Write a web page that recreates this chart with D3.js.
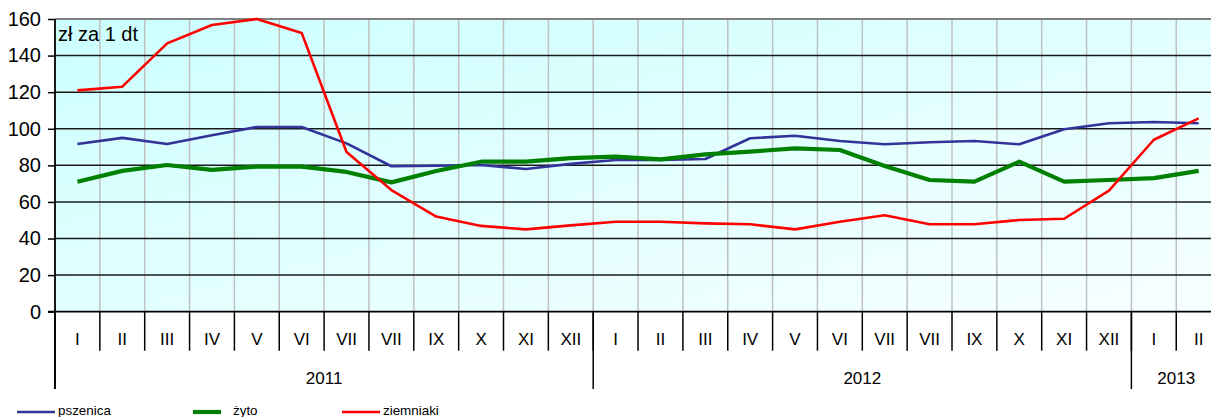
<!DOCTYPE html>
<html lang="pl">
<head>
    <meta charset="UTF-8">
    <script src="https://cdn.jsdelivr.net/npm/d3@7"></script>
    <title>Ceny skupu</title>
    <style>
        body { margin: 0; background: #fff; font-family: Arial, "Liberation Sans", sans-serif; }
        svg { display: block; }
        .tick-label { font-size: 20px; fill: #000; }
        .month-label { font-size: 17px; fill: #000; }
        .year-label { font-size: 17px; fill: #000; }
        .legend-label { font-size: 13.4px; fill: #000; }
    </style>
</head>
<body>
    <div id="chart"></div>
    <script>
        const months = ["I", "II", "III", "IV", "V", "VI", "VII", "VII", "IX", "X", "XI", "XII",
                        "I", "II", "III", "IV", "V", "VI", "VII", "VII", "IX", "X", "XI", "XII",
                        "I", "II"];
        const yearLabels = ["2011", "2012", "2013"];
        const yearMonthCounts = [12, 12, 2];
        const yTicks = [0, 20, 40, 60, 80, 100, 120, 140, 160];

        const pszenica = [91.7, 95, 91.7, 96.5, 101, 101, 92, 79.5, 79.8, 80.2, 78, 80.8,
                          82.9, 82.9, 83.5, 94.8, 96.2, 93.3, 91.5, 92.6, 93.3, 91.5, 99.7, 103,
                          103.7, 103];
        const zyto = [71, 77, 80.2, 77.5, 79.3, 79.3, 76.4, 70.7, 76.9, 82, 82, 83.9,
                      84.8, 83.3, 86, 87.5, 89.3, 88.4, 79.7, 72, 71.1, 82, 71.1, 72,
                      73, 77];
        const ziemniaki = [121, 123, 146.7, 156.7, 160, 152.4, 87.3, 66.5, 52, 46.9, 45, 47.2,
                           49.2, 49.2, 48.3, 47.8, 45, 49.2, 52.7, 47.8, 47.8, 50.1, 50.8, 66.2,
                           94, 105.7];

        const series = [
            { name: "pszenica", values: pszenica, color: "#333399", width: 2.6 },
            { name: "żyto", values: zyto, color: "#008000", width: 4.2 },
            { name: "ziemniaki", values: ziemniaki, color: "#ff0000", width: 2.6 }
        ];

        const width = 1211, height = 417;
        const plot = { left: 55, top: 19, bottom: 311.7, right: 55 + 26 * 44.85 };

        const svg = d3.select("#chart").append("svg")
            .attr("width", width)
            .attr("height", height);

        const x = d3.scaleBand().domain(d3.range(months.length)).range([plot.left, plot.right]).padding(0);
        const y = d3.scaleLinear().domain([0, 160]).range([plot.bottom, plot.top]);
        const xMid = i => x(i) + x.bandwidth() / 2;
        const xEdge = i => i >= months.length ? plot.right : x(i);

        // plot background, light cyan fading to almost white
        const grad = svg.append("defs").append("linearGradient")
            .attr("id", "bg").attr("x1", "0").attr("y1", "0").attr("x2", "1").attr("y2", "1");
        grad.append("stop").attr("offset", "0%").attr("stop-color", "#ccffff");
        grad.append("stop").attr("offset", "100%").attr("stop-color", "#f7ffff");

        svg.append("rect")
            .attr("x", plot.left).attr("y", plot.top)
            .attr("width", plot.right - plot.left).attr("height", plot.bottom - plot.top)
            .attr("fill", "url(#bg)");

        // vertical grid
        svg.append("g").selectAll("line").data(d3.range(1, months.length + 1)).enter().append("line")
            .attr("x1", d => xEdge(d)).attr("x2", d => xEdge(d))
            .attr("y1", plot.top).attr("y2", plot.bottom)
            .attr("stroke", "#c0c0c0").attr("stroke-width", 1.5);

        // horizontal grid
        svg.append("g").selectAll("line").data(yTicks.filter(d => d > 0 && d < 160)).enter().append("line")
            .attr("x1", plot.left).attr("x2", plot.right)
            .attr("y1", d => y(d)).attr("y2", d => y(d))
            .attr("stroke", "#1a1a1a").attr("stroke-width", 1.5);

        svg.append("line")
            .attr("x1", plot.left).attr("x2", plot.right)
            .attr("y1", plot.top).attr("y2", plot.top)
            .attr("stroke", "#808080").attr("stroke-width", 2);

        // y axis
        const yAxis = svg.append("g")
            .attr("transform", `translate(${plot.left},0)`)
            .call(d3.axisLeft(y).tickValues(yTicks).tickSize(7).tickPadding(7));
        yAxis.select(".domain").remove();
        yAxis.selectAll("line").attr("stroke", "#000").attr("stroke-width", 1.5);
        yAxis.selectAll("text").attr("class", "tick-label").attr("font-family", null).attr("font-size", null);

        svg.append("text")
            .attr("class", "tick-label")
            .attr("x", 58).attr("y", 41)
            .attr("font-size", "19.5px")
            .text("zł za 1 dt");

        // x axis: month ticks and labels
        svg.append("g").selectAll("line").data(d3.range(1, months.length)).enter().append("line")
            .attr("x1", d => xEdge(d)).attr("x2", d => xEdge(d))
            .attr("y1", plot.bottom).attr("y2", 350.7)
            .attr("stroke", "#000").attr("stroke-width", 1.5);

        svg.append("g").selectAll("text").data(months).enter().append("text")
            .attr("class", "month-label")
            .attr("x", (d, i) => xMid(i))
            .attr("y", 345.4)
            .attr("text-anchor", "middle")
            .text(d => d);

        // year boundaries and labels
        const yearStarts = yearMonthCounts.map((n, i) => d3.sum(yearMonthCounts.slice(0, i)));
        svg.append("g").selectAll("line").data(yearStarts).enter().append("line")
            .attr("x1", d => xEdge(d)).attr("x2", d => xEdge(d))
            .attr("y1", plot.bottom).attr("y2", 389)
            .attr("stroke", "#000").attr("stroke-width", 1.5);

        svg.append("g").selectAll("text").data(yearLabels).enter().append("text")
            .attr("class", "year-label")
            .attr("x", (d, i) => (xEdge(yearStarts[i]) + xEdge(yearStarts[i] + yearMonthCounts[i])) / 2)
            .attr("y", 383.8)
            .attr("text-anchor", "middle")
            .text(d => d);

        // axis lines
        svg.append("line")
            .attr("x1", plot.left).attr("x2", plot.left)
            .attr("y1", plot.top).attr("y2", 389)
            .attr("stroke", "#000").attr("stroke-width", 1.8);
        svg.append("line")
            .attr("x1", plot.left - 7).attr("x2", plot.right)
            .attr("y1", plot.bottom).attr("y2", plot.bottom)
            .attr("stroke", "#000").attr("stroke-width", 1.8);

        // series lines
        const line = d3.line().x((d, i) => xMid(i)).y(d => y(d));
        svg.append("g").selectAll("path").data(series).enter().append("path")
            .attr("fill", "none")
            .attr("stroke", d => d.color)
            .attr("stroke-width", d => d.width)
            .attr("stroke-linejoin", "round")
            .attr("d", d => line(d.values));

        // legend
        const legendX = [17, 193, 342];
        const legend = svg.append("g").selectAll("g").data(series).enter().append("g")
            .attr("transform", (d, i) => `translate(${legendX[i]},412)`);
        legend.append("line")
            .attr("x1", 0).attr("x2", (d, i) => i === 1 ? 28 : 38)
            .attr("y1", 0).attr("y2", 0)
            .attr("stroke", d => d.color)
            .attr("stroke-width", d => d.width);
        legend.append("text")
            .attr("class", "legend-label")
            .attr("x", (d, i) => i === 1 ? 40 : 41)
            .attr("y", 3)
            .text(d => d.name);
    </script>
</body>
</html>
